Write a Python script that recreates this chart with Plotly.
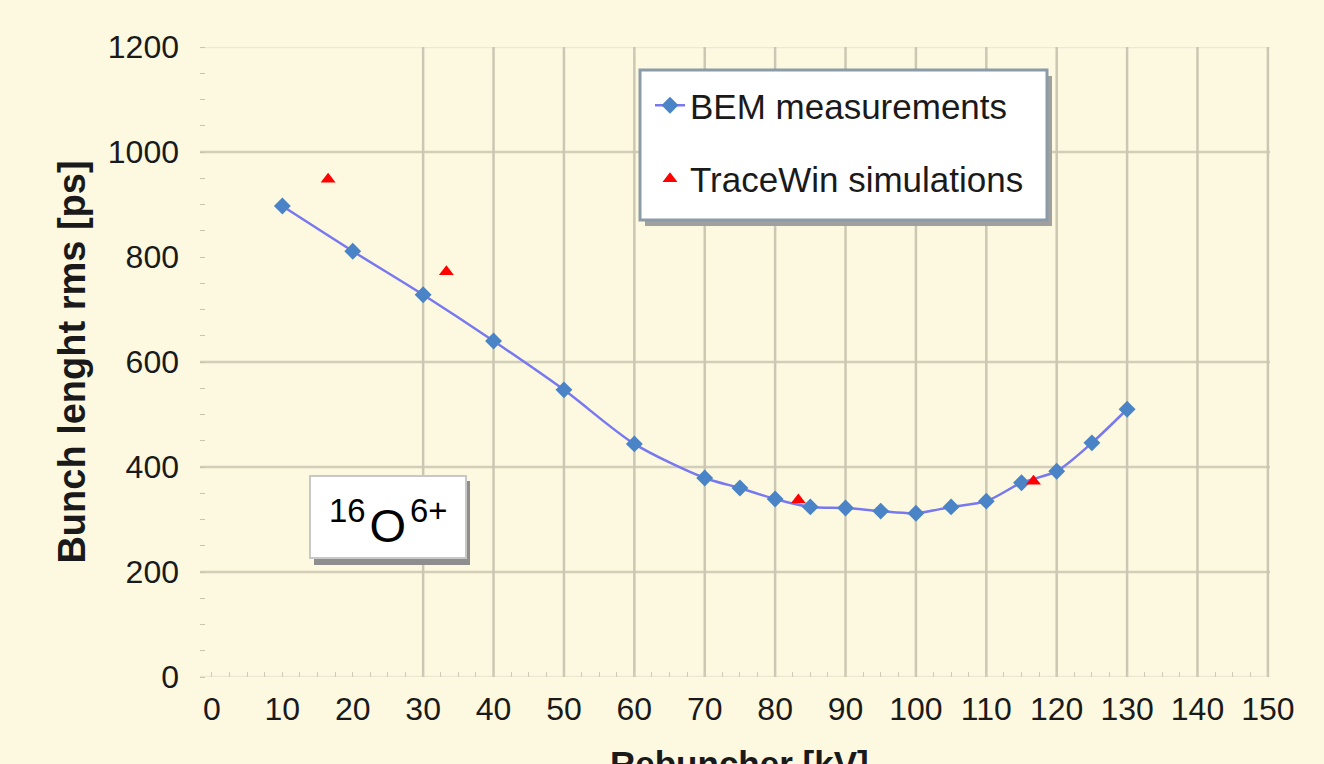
import plotly.graph_objects as go

# ---- data ----
bem_x = [10, 20, 30, 40, 50, 60, 70, 75, 80, 85, 90, 95, 100, 105, 110, 115, 120, 125, 130]
bem_y = [897, 811, 728, 640, 547, 444, 379, 360, 339, 324, 322, 316, 312, 324, 335, 370, 392, 446, 510]
tw_x = [16.5, 33.3, 83.3, 116.7]
tw_y = [948, 772, 337, 373]

x_ticks = list(range(0, 151, 10))
y_ticks = list(range(0, 1201, 200))
grid_x = [30, 40, 50, 60, 70, 80, 90, 100, 110, 120, 130, 140, 150]
grid_y_strong = [200, 400, 600, 1000]
grid_y_faint = [0, 1200]

BG = "#FDF9E1"
FONT = "Liberation Sans, Arial, sans-serif"
TXT = "#1a1a1a"

fig = go.Figure()
fig.add_trace(go.Scatter(
    x=bem_x, y=bem_y, mode="lines+markers", name="BEM measurements",
    legendgroup="a",
    line=dict(color="#7878F0", width=2.5, shape="spline", smoothing=0.8),
    marker=dict(symbol="diamond", size=13, color="#4A84C6", line=dict(width=0)),
))
fig.add_trace(go.Scatter(
    x=tw_x, y=tw_y, mode="markers", name="TraceWin simulations",
    legendgroup="b",
    marker=dict(symbol="triangle-up", size=13, color="#FF0000"),
))

PL, PT, PW, PH = 200, 47, 1070, 630


def px(x):
    return (x - PL) / PW


def py(y):
    return 1 - (y - PT) / PH


shapes = []
for gx in grid_x:
    shapes.append(dict(type="line", xref="x", yref="y", x0=gx, x1=gx, y0=-5, y1=1200,
                       line=dict(color="#CBC7B2", width=2.5), layer="below"))
for gy in grid_y_strong:
    shapes.append(dict(type="line", xref="paper", yref="y", x0=0, x1=1, y0=gy, y1=gy,
                       line=dict(color="#D2CEB9", width=2.5), layer="below"))
for gy in grid_y_faint:
    shapes.append(dict(type="line", xref="paper", yref="y", x0=0, x1=1, y0=gy, y1=gy,
                       line=dict(color="#ECE8D4", width=2.5), layer="below"))

# legend box (drawn as shapes) with shadow
L0, L1 = 640, 1047
T0, T1 = 70, 220
shapes.append(dict(type="rect", xref="paper", yref="paper",
                   x0=px(L0 + 5), x1=px(L1 + 5), y0=py(T1 + 6), y1=py(T0 + 6),
                   fillcolor="#A0A0A0", line=dict(width=0), layer="above"))
shapes.append(dict(type="rect", xref="paper", yref="paper",
                   x0=px(L0), x1=px(L1), y0=py(T1), y1=py(T0),
                   fillcolor="#FFFFFF", line=dict(color="#8C9BA8", width=3), layer="above"))

# 16O6+ box with shadow
B0, B1 = 310, 466
BT0, BT1 = 476, 558
shapes.append(dict(type="rect", xref="paper", yref="paper",
                   x0=px(B0 + 4), x1=px(B1 + 4), y0=py(BT1 + 7), y1=py(BT0 + 5),
                   fillcolor="#8E8E8E", line=dict(width=0), layer="above"))
shapes.append(dict(type="rect", xref="paper", yref="paper",
                   x0=px(B0), x1=px(B1), y0=py(BT1), y1=py(BT0),
                   fillcolor="#FFFFFF", line=dict(color="#C8C8C8", width=2), layer="above"))

annotations = [
    dict(xref="paper", yref="paper", x=px(388), y=py(522), xanchor="center", yanchor="middle",
         text="<sup>16</sup>\u200aO\u200a<sup>6+</sup>",
         showarrow=False, font=dict(family=FONT, size=47, color="#000000")),
    dict(xref="paper", yref="paper", x=px(740), y=py(742), xanchor="center", yanchor="top",
         text="<b>Rebuncher [kV]</b>", showarrow=False,
         font=dict(family=FONT, size=35, color=TXT)),
]

fig.update_layout(
    width=1324, height=764,
    paper_bgcolor=BG, plot_bgcolor=BG,
    margin=dict(l=PL, r=1324 - PL - PW, t=PT, b=764 - PT - PH, pad=0),
    font=dict(family=FONT, size=32, color=TXT),
    showlegend=True,
    legend=dict(
        x=px(650), y=py(76), xanchor="left", yanchor="top",
        bgcolor="rgba(0,0,0,0)", borderwidth=0,
        font=dict(family=FONT, size=35, color=TXT),
        tracegroupgap=25, itemwidth=30,
    ),
    shapes=shapes,
    annotations=annotations,
    xaxis=dict(
        range=[-1.7, 150.3], tickvals=x_ticks, showgrid=False, zeroline=False,
        showline=False, ticks="", ticklabelstandoff=10,
        tickfont=dict(family=FONT, size=32, color=TXT),
        minor=dict(ticks="inside", ticklen=5, tickcolor="#CFCBB6", dtick=2.5, showgrid=False),
    ),
    yaxis=dict(
        range=[0, 1200], tickvals=y_ticks, showgrid=False, zeroline=False,
        showline=False, ticks="", ticklabelstandoff=20,
        tickfont=dict(family=FONT, size=32, color=TXT),
        minor=dict(ticks="inside", ticklen=5, tickcolor="#C8C4B0", dtick=50, showgrid=False),
        title=dict(text="<b>Bunch lenght rms [ps]</b>", font=dict(family=FONT, size=38, color=TXT),
                   standoff=10),
    ),
)

fig.write_html("out.html", config={"displayModeBar": False},
               post_script="document.body.style.margin='0';document.body.style.background='%s';" % BG)
